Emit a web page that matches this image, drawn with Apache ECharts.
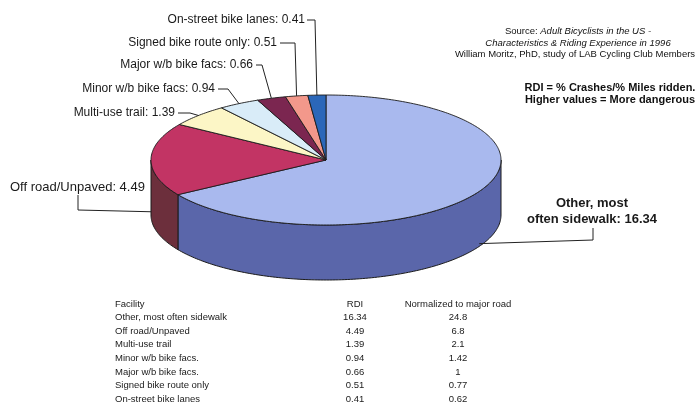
<!DOCTYPE html>
<html><head><meta charset="utf-8">
<script src="https://cdn.jsdelivr.net/npm/echarts@6/dist/echarts.min.js"></script>
<style>html,body{margin:0;padding:0;background:#fff}#c{width:700px;height:406px}</style>
</head><body><div id="c"></div>
<script>
// ---- data ----
const categories = ['Other, most often sidewalk', 'Off road/Unpaved', 'Multi-use trail', 'Minor w/b bike facs.', 'Major w/b bike facs.', 'Signed bike route only', 'On-street bike lanes'];
const labelNames = ['Other, most\noften sidewalk', 'Off road/Unpaved', 'Multi-use trail', 'Minor w/b bike facs', 'Major w/b bike facs', 'Signed bike route only', 'On-street bike lanes'];
const rdiValues = [16.34, 4.49, 1.39, 0.94, 0.66, 0.51, 0.41];
const normalizedValues = [24.8, 6.8, 2.1, 1.42, 1, 0.77, 0.62];
const tableHeaders = ['Facility', 'RDI', 'Normalized to major road'];

// ---- layout / style ----
const PIE = {cx: 326, cy: 160, rx: 175, ry: 65, depth: 55};
const topColors = ['#a9b9ee', '#c23464', '#fcf6c6', '#d9ecf8', '#7b2650', '#f3988b', '#2b67b9'];
const sideColors = ['#5a66aa', '#6c2f3c', '#c9c39a', '#a9bccb', '#4f1834', '#c06a60', '#1d4684'];
const FONT = '"Liberation Sans", Arial, sans-serif';
const labelLayout = [
  {x: 592, y: 211, align: 'center', bold: true, size: 13, side: true, elbow: [[593, 228], [593, 240]]},
  {x: 10, y: 187, align: 'left', size: 13, side: true, elbow: [[78, 195], [78, 210]]},
  {x: 175, y: 113, align: 'right', size: 12, elbow: [[178, 113], [190, 113]]},
  {x: 215, y: 89, align: 'right', size: 12, elbow: [[218, 89], [228, 89]]},
  {x: 253, y: 65, align: 'right', size: 12, elbow: [[256, 65], [262, 65]]},
  {x: 277, y: 43, align: 'right', size: 12, elbow: [[280, 43], [295, 43]]},
  {x: 305, y: 20, align: 'right', size: 12, elbow: [[307, 20], [315, 20]]}
];

const total = rdiValues.reduce((a, b) => a + b, 0);
const startFrac = rdiValues.map((v, i) => rdiValues.slice(0, i).reduce((a, b) => a + b, 0) / total);

function pt(deg, dy) {
  const r = deg * Math.PI / 180;
  return [PIE.cx + PIE.rx * Math.sin(r), PIE.cy - PIE.ry * Math.cos(r) + (dy || 0)];
}
function arcPts(a, b, dy) {
  const pts = [];
  const n = Math.max(2, Math.ceil(b - a));
  for (let k = 0; k <= n; k++) pts.push(pt(a + (b - a) * k / n, dy));
  return pts;
}

function renderItem(params, api) {
  const i = params.dataIndex;
  const v = api.value(0);
  const a = startFrac[i] * 360, b = a + v / total * 360;
  const children = [];
  const sa = Math.max(a, 90), sb = Math.min(b, 270);
  if (sb > sa) {
    const topE = arcPts(sa, sb, 0), botE = arcPts(sa, sb, PIE.depth).reverse();
    children.push({type: 'polygon', shape: {points: topE.concat(botE)},
      style: {fill: sideColors[i], stroke: '#1b1b1b', lineWidth: 1}});
  }
  children.push({type: 'polygon', shape: {points: [[PIE.cx, PIE.cy]].concat(arcPts(a, b, 0))},
    style: {fill: topColors[i], stroke: '#1b1b1b', lineWidth: 0.9}});
  const L = labelLayout[i];
  const mid = (a + b) / 2;
  const anchor = pt(mid, L.side ? PIE.depth * 0.95 : 0);
  children.push({type: 'polyline', shape: {points: L.elbow.concat([anchor])},
    style: {stroke: '#222', lineWidth: 1, fill: null}});
  children.push({type: 'text', x: L.x, y: L.y, style: {
    text: labelNames[i] + ': ' + rdiValues[i].toFixed(2),
    fill: '#1a1a1a', font: (L.bold ? 'bold ' : '') + L.size + 'px ' + FONT,
    align: L.align, verticalAlign: 'middle', lineHeight: 16}});
  return {type: 'group', children};
}

// table graphics
const tableEls = [];
const rowY0 = 304, rowStep = 13.6;
const colX = [115, 355, 458];
const tStyle = (text, x, y, align) => ({type: 'text', x, y, style: {text, align, verticalAlign: 'middle', font: '9.5px ' + FONT, fill: '#1a1a1a'}});
tableEls.push(tStyle(tableHeaders[0], colX[0], rowY0, 'left'));
tableEls.push(tStyle(tableHeaders[1], colX[1], rowY0, 'center'));
tableEls.push(tStyle(tableHeaders[2], colX[2], rowY0, 'center'));
categories.forEach((c, i) => {
  const y = rowY0 + rowStep * (i + 1);
  tableEls.push(tStyle(c, colX[0], y, 'left'));
  tableEls.push(tStyle(rdiValues[i].toFixed(2), colX[1], y, 'center'));
  tableEls.push(tStyle(String(normalizedValues[i]), colX[2], y, 'center'));
});

const chart = echarts.init(document.getElementById('c'), null, {renderer: 'canvas'});
chart.setOption({
  backgroundColor: '#fff',
  animation: false,
  series: [{
    type: 'custom',
    coordinateSystem: 'none',
    renderItem,
    data: rdiValues.map(v => [v])
  }],
  graphic: [
    {type: 'text', x: 578, y: 31, style: {
      text: '{n|Source: }{i|Adult Bicyclists in the US -}', align: 'center', verticalAlign: 'middle',
      rich: {n: {font: '9.5px ' + FONT, fill: '#111'}, i: {font: 'italic 9.5px ' + FONT, fill: '#111'}}}},
    {type: 'text', x: 578, y: 43, style: {text: 'Characteristics & Riding Experience in 1996', align: 'center', verticalAlign: 'middle', font: 'italic 9.5px ' + FONT, fill: '#111'}},
    {type: 'text', x: 575, y: 54, style: {text: 'William Moritz, PhD, study of LAB Cycling Club Members', align: 'center', verticalAlign: 'middle', font: '9.5px ' + FONT, fill: '#111'}},
    {type: 'text', x: 610, y: 88, style: {text: 'RDI = % Crashes/% Miles ridden.', align: 'center', verticalAlign: 'middle', font: 'bold 11px ' + FONT, fill: '#111'}},
    {type: 'text', x: 610, y: 100, style: {text: 'Higher values = More dangerous', align: 'center', verticalAlign: 'middle', font: 'bold 11px ' + FONT, fill: '#111'}}
  ].concat(tableEls)
});
</script></body></html>
